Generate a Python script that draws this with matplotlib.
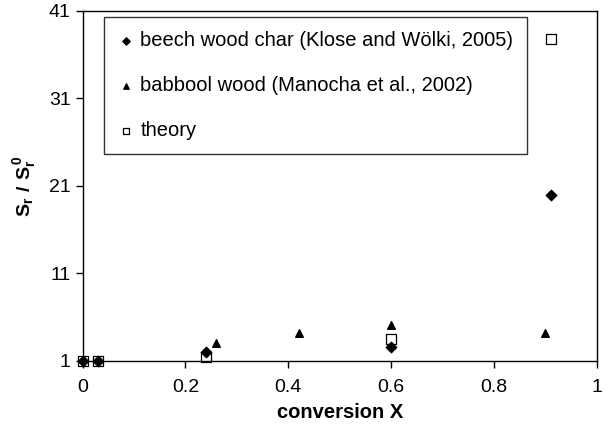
import matplotlib.pyplot as plt

plt.rcParams['font.family'] = ['Liberation Sans', 'DejaVu Sans']
plt.rcParams['mathtext.fontset'] = 'custom'
plt.rcParams['mathtext.rm'] = 'Liberation Sans'
plt.rcParams['mathtext.bf'] = 'Liberation Sans:bold'

# data
beech_x = [0.0, 0.03, 0.24, 0.60, 0.91]
beech_y = [1.0, 1.0, 2.0, 2.6, 20.0]

babbool_x = [0.26, 0.42, 0.60, 0.90]
babbool_y = [3.1, 4.2, 5.1, 4.2]

theory_x = [0.0, 0.03, 0.24, 0.60, 0.91]
theory_y = [1.0, 1.0, 1.5, 3.5, 37.8]

x_ticks = [0, 0.2, 0.4, 0.6, 0.8, 1]
y_ticks = [1, 11, 21, 31, 41]

fig = plt.figure(figsize=(6.16, 4.37), dpi=100)
ax = fig.add_axes([0.134, 0.174, 0.835, 0.801])

ax.scatter(theory_x, theory_y, marker='s', s=42, facecolor='white',
           edgecolor='black', linewidth=0.9, zorder=2, clip_on=False, label='theory')
ax.scatter(beech_x, beech_y, marker='D', s=28, color='black', zorder=3,
           clip_on=False, label='beech wood char (Klose and Wölki, 2005)')
ax.scatter(babbool_x, babbool_y, marker='^', s=30, color='black', zorder=3,
           clip_on=False, label='babbool wood (Manocha et al., 2002)')

ax.set_xlim(0, 1)
ax.set_ylim(1, 41)
ax.set_xticks(x_ticks)
ax.set_xticklabels(['0', '0.2', '0.4', '0.6', '0.8', '1'])
ax.set_yticks(y_ticks)
ax.tick_params(direction='out', length=5, width=1, labelsize=14, colors='black')
ax.tick_params(axis='x', pad=8)
for s in ax.spines.values():
    s.set_linewidth(1)
    s.set_color('black')

ax.set_xlabel('conversion X', fontsize=14.5, fontweight='bold', labelpad=5)
ax.set_ylabel(r'$\mathbf{S_r\ /\ S_r^{\,0}}$', fontsize=14, labelpad=8)

handles, labels = ax.get_legend_handles_labels()
order = [1, 2, 0]
leg = ax.legend([handles[i] for i in order], [labels[i] for i in order],
                loc='upper left', bbox_to_anchor=(0.042, 0.983), fontsize=14.5,
                frameon=True, fancybox=False, edgecolor='black',
                labelspacing=1.3, handlelength=0.8, handletextpad=0.3,
                borderpad=0.7, borderaxespad=0, markerscale=0.7)
leg.get_frame().set_linewidth(1)

fig.savefig('out.png', dpi=100)
